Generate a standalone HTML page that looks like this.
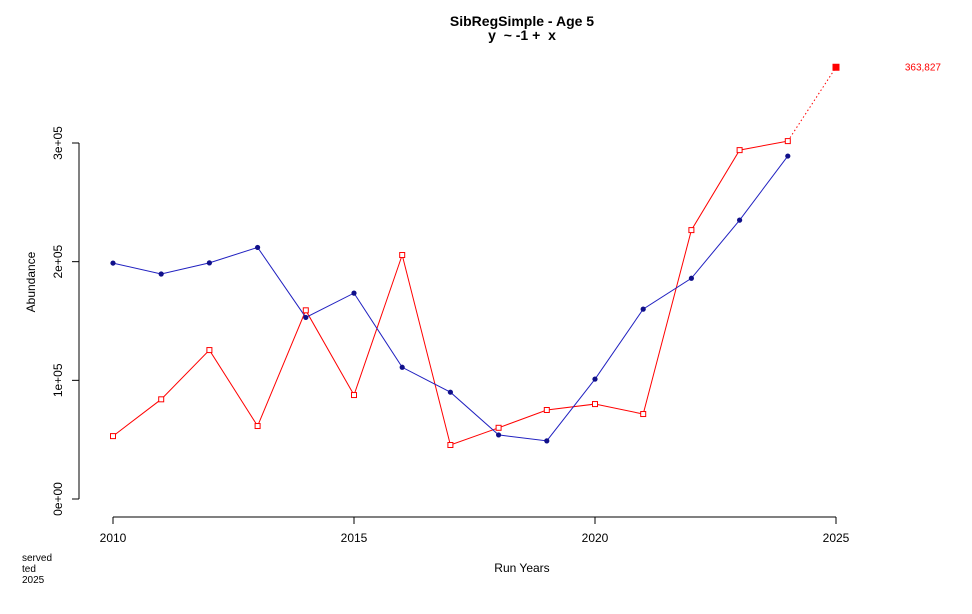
<!DOCTYPE html>
<html><head><meta charset="utf-8"><style>
body{margin:0;background:#fff;}
svg{display:block;font-family:"Liberation Sans",sans-serif;}
</style></head><body>
<svg id="chart" width="972" height="614">
<text x="522" y="26" text-anchor="middle" font-size="14" font-weight="bold">SibRegSimple - Age 5</text>
<text x="522" y="40" text-anchor="middle" font-size="14" font-weight="bold" xml:space="preserve" style="white-space:pre">y  ~ -1 +  x</text>
<text x="522" y="572" text-anchor="middle" font-size="12">Run Years</text>
<text transform="translate(35,282) rotate(-90)" text-anchor="middle" font-size="12">Abundance</text>
<text x="22" y="561" font-size="10">served</text>
<text x="22" y="572" font-size="10">ted</text>
<text x="22" y="583" font-size="10">2025</text>
<g id="axes"></g><g id="marks"></g>
</svg>
<script>
const years=[2010,2011,2012,2013,2014,2015,2016,2017,2018,2019,2020,2021,2022,2023,2024];
const blueVals=[198800,189600,199000,212000,153000,173500,111000,90000,54000,49000,101000,160000,186000,235000,289000];
const redVals=[53000,84000,125500,61500,159000,87600,205600,45500,60000,75000,80000,71600,226600,294000,301600];
const forecastYear=2025;
const forecastVal=363827;
const xTicks=[2010,2015,2020,2025];
const yTicks=[0,100000,200000,300000];
const yTickLabels=["0e+00","1e+05","2e+05","3e+05"];

const NS="http://www.w3.org/2000/svg";
const X=v=>113+(v-2010)*(836-113)/15;
const Y=v=>499-v*(499-143)/300000;
function mk(tag,attrs,parent){const e=document.createElementNS(NS,tag);for(const k in attrs)e.setAttribute(k,attrs[k]);parent.appendChild(e);return e;}
const ax=document.getElementById('axes'),mg=document.getElementById('marks');
let l=mk('line',{x1:79,y1:Y(0),x2:79,y2:Y(300000),stroke:'#000'},ax);


yTicks.forEach((t,i)=>{
  const tk=mk('line',{x1:72,y1:Y(t),x2:79,y2:Y(t),stroke:'#000'},ax);
  
  
  const tx=mk('text',{transform:`translate(62,${Y(t)}) rotate(-90)`,'text-anchor':'middle','font-size':12},ax);
  tx.textContent=yTickLabels[i];
  
  
});
l=mk('line',{x1:X(2010),y1:517,x2:X(2025),y2:517,stroke:'#000'},ax);


xTicks.forEach(t=>{
  const tk=mk('line',{x1:X(t),y1:517,x2:X(t),y2:524,stroke:'#000'},ax);
  
  
  const tx=mk('text',{x:X(t),y:542,'text-anchor':'middle','font-size':12},ax);
  tx.textContent=t;
  
  
});
let fl=mk('line',{x1:X(years[years.length-1]),y1:Y(redVals[redVals.length-1]),x2:X(forecastYear),y2:Y(forecastVal),stroke:'#f00','stroke-dasharray':'1.5,2.5'},mg);


let rl=mk('polyline',{points:years.map((y,i)=>X(y)+','+Y(redVals[i])).join(' '),fill:'none',stroke:'#f00'},mg);


let bl=mk('polyline',{points:years.map((y,i)=>X(y)+','+Y(blueVals[i])).join(' '),fill:'none',stroke:'#2020c0'},mg);


years.forEach((y,i)=>{
  const r=mk('rect',{x:X(y)-2.5,y:Y(redVals[i])-2.5,width:5,height:5,fill:'#fff',stroke:'#f00'},mg);
  
  
  const c=mk('circle',{cx:X(y),cy:Y(blueVals[i]),r:2.6,fill:'#10108a'},mg);
  
  
});
const fp=mk('rect',{x:X(forecastYear)-3.5,y:Y(forecastVal)-3.5,width:7,height:7,fill:'#f00'},mg);


const ft=mk('text',{x:941,y:Y(forecastVal)+3,'text-anchor':'end','font-size':10,fill:'#f00'},mg);
ft.textContent=forecastVal.toLocaleString('en-US');


</script>
</body></html>
